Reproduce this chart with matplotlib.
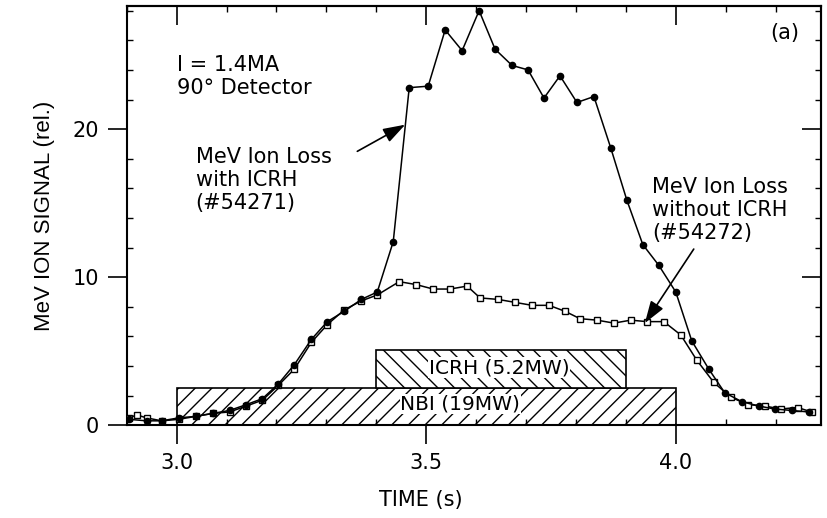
import numpy as np
import matplotlib
matplotlib.use('Agg')
import matplotlib.pyplot as plt
from matplotlib.patches import Rectangle
from matplotlib.ticker import MultipleLocator

# the scan is a bit wide, so a wider sans face fits the text better
plt.rcParams['font.family'] = ['DejaVu Sans']
plt.rcParams['font.size'] = 15
plt.rcParams['hatch.linewidth'] = 1.0

# shot #54271, MeV ion loss with ICRH
t_icrh = [2.905, 2.94, 2.97, 3.004, 3.038, 3.072, 3.106, 3.14, 3.172, 3.204, 3.236,
          3.27, 3.302, 3.336, 3.37, 3.402, 3.434, 3.466, 3.504, 3.538, 3.572, 3.606,
          3.638, 3.672, 3.704, 3.736, 3.768, 3.802, 3.836, 3.87, 3.902, 3.934, 3.966,
          4.0, 4.032, 4.066, 4.098, 4.132, 4.166, 4.198, 4.232, 4.266]
sig_icrh = [0.4, 0.3, 0.3, 0.5, 0.6, 0.8, 1.0, 1.4, 1.8, 2.8, 4.1,
            5.8, 7.0, 7.7, 8.5, 9.0, 12.4, 22.8, 22.9, 26.7, 25.3, 28.0,
            25.4, 24.3, 24.0, 22.1, 23.6, 21.8, 22.2, 18.7, 15.2, 12.2, 10.8,
            9.0, 5.7, 3.8, 2.2, 1.6, 1.3, 1.1, 1.0, 0.9]

# shot #54272, MeV ion loss without ICRH
t_noicrh = [2.905, 2.92, 2.94, 2.97, 3.004, 3.038, 3.072, 3.106, 3.14, 3.172, 3.204,
            3.236, 3.27, 3.302, 3.336, 3.37, 3.402, 3.446, 3.48, 3.514, 3.548, 3.582,
            3.608, 3.644, 3.678, 3.712, 3.746, 3.778, 3.808, 3.842, 3.876, 3.91, 3.942,
            3.976, 4.01, 4.042, 4.076, 4.11, 4.144, 4.178, 4.21, 4.244, 4.272]
sig_noicrh = [0.5, 0.7, 0.5, 0.3, 0.4, 0.6, 0.8, 0.9, 1.3, 1.7, 2.7,
              3.8, 5.6, 6.8, 7.8, 8.4, 8.8, 9.7, 9.5, 9.2, 9.2, 9.4,
              8.6, 8.5, 8.3, 8.1, 8.1, 7.7, 7.2, 7.1, 6.9, 7.1, 7.0,
              7.0, 6.1, 4.4, 2.9, 1.9, 1.4, 1.3, 1.1, 1.2, 0.9]

# heating pulses: start, end, bottom, top
nbi = [3.0, 4.0, 0.0, 2.55]
icrh = [3.4, 3.9, 2.55, 5.05]

fig = plt.figure(figsize=(8.28, 5.18), dpi=100)
ax = fig.add_axes([0.153, 0.179, 0.838, 0.809])

ax.add_patch(Rectangle((nbi[0], nbi[2]), nbi[1]-nbi[0], nbi[3]-nbi[2],
                       facecolor='white', edgecolor='black', hatch='//', lw=1.2, zorder=1))
ax.add_patch(Rectangle((icrh[0], icrh[2]), icrh[1]-icrh[0], icrh[3]-icrh[2],
                       facecolor='white', edgecolor='black', hatch='\\\\', lw=1.2, zorder=1))
ax.text(3.568, 1.45, 'NBI (19MW)', ha='center', va='center', zorder=2, fontsize=14.5,
        bbox=dict(fc='white', ec='none', pad=0.5))
ax.text(3.646, 3.9, 'ICRH (5.2MW)', ha='center', va='center', zorder=2, fontsize=14.5,
        bbox=dict(fc='white', ec='none', pad=0.5))

ax.plot(t_noicrh, sig_noicrh, '-', color='black', lw=1.1, marker='s', ms=4,
        mfc='white', mec='black', mew=1.0, zorder=3)
ax.plot(t_icrh, sig_icrh, '-', color='black', lw=1.1, marker='o', ms=4.5,
        mfc='black', mec='black', zorder=4)

ax.text(3.0, 25.0, 'I = 1.4MA\n90\u00b0 Detector', ha='left', va='top')
ax.text(3.038, 18.8, 'MeV Ion Loss\nwith ICRH\n(#54271)', ha='left', va='top')
ax.text(3.952, 16.8, 'MeV Ion Loss\nwithout ICRH\n(#54272)', ha='left', va='top')
ax.text(4.19, 27.2, '(a)', ha='left', va='top')

arrow = dict(arrowstyle='-|>,head_length=0.9,head_width=0.3', color='black', lw=1.2,
             shrinkA=0, shrinkB=0)
ax.annotate('', xy=(3.458, 20.3), xytext=(3.362, 18.5), arrowprops=arrow)
ax.annotate('', xy=(3.938, 6.9), xytext=(4.036, 11.9), arrowprops=arrow)

ax.set_xlim(2.9, 4.29)
ax.set_ylim(0, 28.3)
ax.xaxis.set_major_locator(MultipleLocator(0.5))
ax.xaxis.set_minor_locator(MultipleLocator(0.1))
ax.yaxis.set_major_locator(MultipleLocator(10))
ax.yaxis.set_minor_locator(MultipleLocator(2))
ax.xaxis.set_major_formatter(matplotlib.ticker.FormatStrFormatter('%.1f'))
ax.tick_params(which='major', direction='out', length=14, width=1.2, pad=6)
ax.tick_params(which='minor', direction='in', length=4, width=1.0)

top = ax.secondary_xaxis('top')
top.xaxis.set_major_locator(MultipleLocator(0.5))
top.xaxis.set_minor_locator(MultipleLocator(0.1))
top.tick_params(which='major', direction='in', length=14, width=1.2, labeltop=False)
top.tick_params(which='minor', direction='in', length=4, width=1.0)
right = ax.secondary_yaxis('right')
right.yaxis.set_major_locator(MultipleLocator(10))
right.yaxis.set_minor_locator(MultipleLocator(2))
right.tick_params(which='major', direction='in', length=14, width=1.2, labelright=False)
right.tick_params(which='minor', direction='in', length=4, width=1.0)
for a in (ax, top, right):
    for s in a.spines.values():
        s.set_linewidth(1.5)

ax.set_xlabel('TIME (s)')
ax.xaxis.set_label_coords(0.424, -0.155)
ax.set_ylabel('MeV ION SIGNAL (rel.)', family='Liberation Sans', fontsize=16)
ax.yaxis.label.set_va('center')
ax.yaxis.set_label_coords(-0.118, 0.5)

fig.savefig('out.png', dpi=100)
